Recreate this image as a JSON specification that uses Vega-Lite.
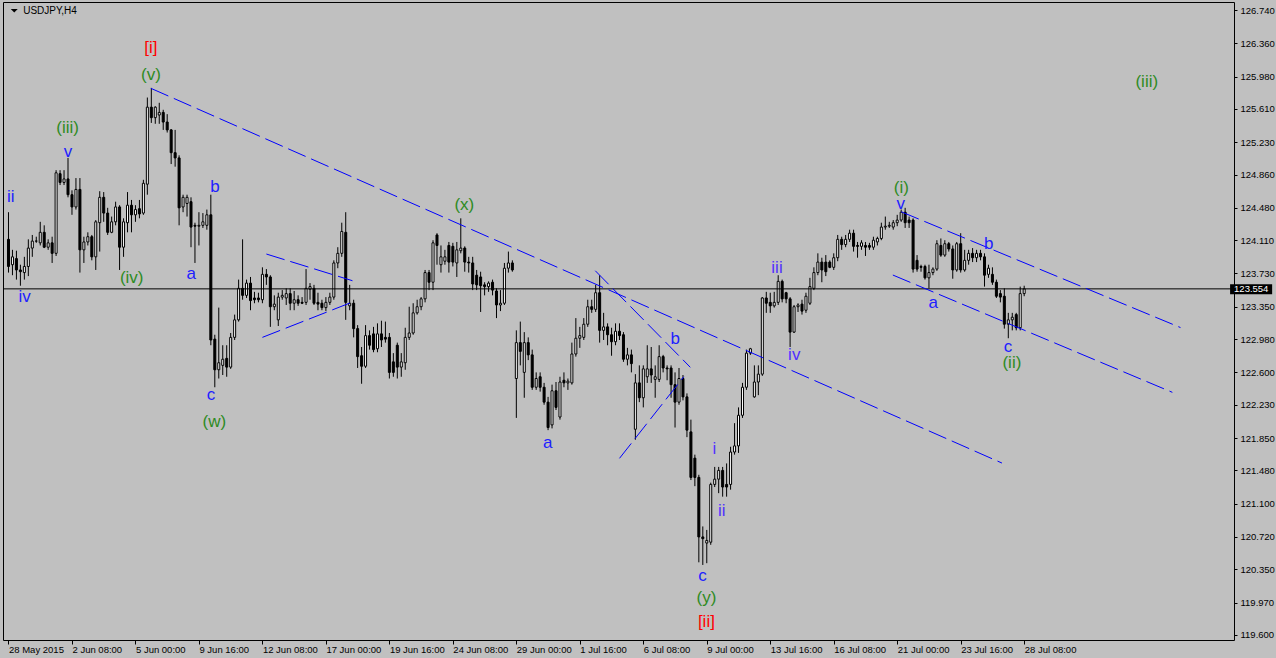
{
"$schema": "https://vega.github.io/schema/vega-lite/v6.json",
"width": 1231, "height": 638,
"autosize": "none",
"padding": {"left": 3, "top": 2, "right": 42, "bottom": 18},
"background": "#c0c0c0",
"config": {
  "view": {"stroke": "#000000", "strokeWidth": 1, "fill": "#c0c0c0"},
  "font": "Liberation Sans",
  "axis": {"labelOverlap": false, "labelFlush": false, "labelBound": false, "grid": false, "domain": false}
},
"datasets": {
"bars": [
{"i":0,"o":124.12,"h":124.43,"l":123.74,"c":123.81},
{"i":1,"o":123.83,"h":124.00,"l":123.71,"c":123.92},
{"i":2,"o":123.90,"h":123.99,"l":123.66,"c":123.77},
{"i":3,"o":123.77,"h":123.83,"l":123.59,"c":123.75},
{"i":4,"o":123.74,"h":123.92,"l":123.66,"c":123.81},
{"i":5,"o":123.81,"h":124.12,"l":123.70,"c":124.02},
{"i":6,"o":124.02,"h":124.17,"l":123.92,"c":124.10},
{"i":7,"o":124.10,"h":124.15,"l":124.08,"c":124.10},
{"i":8,"o":124.08,"h":124.32,"l":124.05,"c":124.20},
{"i":9,"o":124.20,"h":124.28,"l":124.02,"c":124.03},
{"i":10,"o":124.03,"h":124.12,"l":124.00,"c":124.08},
{"i":11,"o":124.08,"h":124.15,"l":123.85,"c":123.96},
{"i":12,"o":123.96,"h":124.91,"l":123.93,"c":124.88},
{"i":13,"o":124.87,"h":124.91,"l":124.74,"c":124.77},
{"i":14,"o":124.77,"h":124.91,"l":124.74,"c":124.81},
{"i":15,"o":124.81,"h":125.05,"l":124.60,"c":124.63},
{"i":16,"o":124.63,"h":124.68,"l":124.40,"c":124.49},
{"i":17,"o":124.49,"h":124.82,"l":124.46,"c":124.69},
{"i":18,"o":124.69,"h":124.82,"l":123.74,"c":124.00},
{"i":19,"o":124.00,"h":124.15,"l":123.85,"c":124.09},
{"i":20,"o":124.09,"h":124.20,"l":124.05,"c":124.15},
{"i":21,"o":124.15,"h":124.17,"l":123.88,"c":123.92},
{"i":22,"o":123.92,"h":124.34,"l":123.77,"c":124.32},
{"i":23,"o":124.31,"h":124.67,"l":123.98,"c":124.60},
{"i":24,"o":124.60,"h":124.66,"l":124.32,"c":124.42},
{"i":25,"o":124.42,"h":124.48,"l":124.17,"c":124.20},
{"i":26,"o":124.20,"h":124.38,"l":124.19,"c":124.32},
{"i":27,"o":124.32,"h":124.55,"l":124.28,"c":124.49},
{"i":28,"o":124.49,"h":124.51,"l":123.77,"c":124.03},
{"i":29,"o":124.03,"h":124.36,"l":123.92,"c":124.32},
{"i":30,"o":124.31,"h":124.66,"l":124.20,"c":124.51},
{"i":31,"o":124.51,"h":124.57,"l":124.20,"c":124.40},
{"i":32,"o":124.40,"h":124.51,"l":124.32,"c":124.46},
{"i":33,"o":124.47,"h":124.57,"l":124.36,"c":124.41},
{"i":34,"o":124.42,"h":124.80,"l":124.40,"c":124.76},
{"i":35,"o":124.75,"h":125.74,"l":124.63,"c":125.63},
{"i":36,"o":125.63,"h":125.85,"l":125.45,"c":125.51},
{"i":37,"o":125.51,"h":125.64,"l":125.44,"c":125.63},
{"i":38,"o":125.54,"h":125.68,"l":125.44,"c":125.57},
{"i":39,"o":125.57,"h":125.60,"l":125.37,"c":125.46},
{"i":40,"o":125.46,"h":125.55,"l":125.34,"c":125.37},
{"i":41,"o":125.37,"h":125.38,"l":124.98,"c":125.11},
{"i":42,"o":125.11,"h":125.37,"l":124.95,"c":125.05},
{"i":43,"o":125.05,"h":125.08,"l":124.28,"c":124.48},
{"i":44,"o":124.49,"h":124.63,"l":124.43,"c":124.60},
{"i":45,"o":124.53,"h":124.63,"l":124.38,"c":124.60},
{"i":46,"o":124.55,"h":124.60,"l":124.03,"c":124.26},
{"i":47,"o":124.28,"h":124.31,"l":123.85,"c":124.27},
{"i":48,"o":124.27,"h":124.43,"l":124.05,"c":124.28},
{"i":49,"o":124.28,"h":124.42,"l":124.25,"c":124.32},
{"i":50,"o":124.28,"h":124.46,"l":124.23,"c":124.40},
{"i":51,"o":124.40,"h":124.63,"l":122.91,"c":122.97},
{"i":52,"o":122.98,"h":123.03,"l":122.43,"c":122.63},
{"i":53,"o":122.63,"h":123.34,"l":122.53,"c":122.71},
{"i":54,"o":122.68,"h":122.91,"l":122.57,"c":122.75},
{"i":55,"o":122.76,"h":122.91,"l":122.55,"c":122.66},
{"i":56,"o":122.66,"h":123.05,"l":122.64,"c":123.00},
{"i":57,"o":123.00,"h":123.26,"l":122.97,"c":123.20},
{"i":58,"o":123.20,"h":123.66,"l":123.18,"c":123.56},
{"i":59,"o":123.56,"h":124.12,"l":123.43,"c":123.48},
{"i":60,"o":123.48,"h":123.66,"l":123.45,"c":123.62},
{"i":61,"o":123.62,"h":123.69,"l":123.31,"c":123.42},
{"i":62,"o":123.45,"h":123.52,"l":123.39,"c":123.43},
{"i":63,"o":123.45,"h":123.51,"l":123.40,"c":123.43},
{"i":64,"o":123.43,"h":123.80,"l":123.39,"c":123.72},
{"i":65,"o":123.72,"h":123.78,"l":123.60,"c":123.69},
{"i":66,"o":123.69,"h":123.71,"l":123.12,"c":123.35},
{"i":67,"o":123.35,"h":123.48,"l":123.31,"c":123.38},
{"i":68,"o":123.20,"h":123.51,"l":123.13,"c":123.46},
{"i":69,"o":123.46,"h":123.54,"l":123.43,"c":123.48},
{"i":70,"o":123.45,"h":123.56,"l":123.37,"c":123.50},
{"i":71,"o":123.50,"h":123.56,"l":123.31,"c":123.39},
{"i":72,"o":123.39,"h":123.53,"l":123.31,"c":123.43},
{"i":73,"o":123.43,"h":123.48,"l":123.36,"c":123.39},
{"i":74,"o":123.40,"h":123.46,"l":123.38,"c":123.39},
{"i":75,"o":123.40,"h":123.78,"l":123.37,"c":123.56},
{"i":76,"o":123.55,"h":123.62,"l":123.43,"c":123.58},
{"i":77,"o":123.56,"h":123.60,"l":123.37,"c":123.39},
{"i":78,"o":123.40,"h":123.51,"l":123.31,"c":123.38},
{"i":79,"o":123.39,"h":123.43,"l":123.31,"c":123.34},
{"i":80,"o":123.34,"h":123.46,"l":123.30,"c":123.40},
{"i":81,"o":123.40,"h":123.51,"l":123.37,"c":123.46},
{"i":82,"o":123.46,"h":123.88,"l":123.43,"c":123.85},
{"i":83,"o":123.85,"h":124.03,"l":123.79,"c":123.96},
{"i":84,"o":123.96,"h":124.31,"l":123.92,"c":124.21},
{"i":85,"o":124.20,"h":124.43,"l":123.20,"c":123.40},
{"i":86,"o":123.36,"h":123.60,"l":123.31,"c":123.39},
{"i":87,"o":123.39,"h":123.43,"l":123.00,"c":123.10},
{"i":88,"o":123.10,"h":123.14,"l":122.65,"c":122.78},
{"i":89,"o":122.79,"h":122.89,"l":122.47,"c":122.67},
{"i":90,"o":122.67,"h":123.14,"l":122.65,"c":123.02},
{"i":91,"o":123.02,"h":123.08,"l":122.86,"c":122.91},
{"i":92,"o":123.04,"h":123.12,"l":122.83,"c":122.86},
{"i":93,"o":122.87,"h":123.16,"l":122.83,"c":123.04},
{"i":94,"o":123.04,"h":123.19,"l":122.89,"c":122.97},
{"i":95,"o":123.00,"h":123.18,"l":122.94,"c":122.98},
{"i":96,"o":123.00,"h":123.05,"l":122.53,"c":122.60},
{"i":97,"o":122.72,"h":122.82,"l":122.55,"c":122.60},
{"i":98,"o":122.91,"h":122.94,"l":122.53,"c":122.66},
{"i":99,"o":122.66,"h":122.82,"l":122.55,"c":122.72},
{"i":100,"o":122.71,"h":123.11,"l":122.63,"c":123.00},
{"i":101,"o":123.00,"h":123.35,"l":122.97,"c":123.05},
{"i":102,"o":123.05,"h":123.39,"l":123.03,"c":123.28},
{"i":103,"o":123.28,"h":123.43,"l":123.26,"c":123.35},
{"i":104,"o":123.35,"h":123.46,"l":123.31,"c":123.44},
{"i":105,"o":123.44,"h":123.77,"l":123.40,"c":123.74},
{"i":106,"o":123.74,"h":123.77,"l":123.54,"c":123.63},
{"i":107,"o":123.63,"h":124.11,"l":123.54,"c":124.08},
{"i":108,"o":124.17,"h":124.19,"l":123.83,"c":124.05},
{"i":109,"o":123.83,"h":124.05,"l":123.74,"c":123.92},
{"i":110,"o":123.87,"h":124.00,"l":123.83,"c":123.92},
{"i":111,"o":124.05,"h":124.09,"l":123.74,"c":123.86},
{"i":112,"o":124.04,"h":124.08,"l":123.81,"c":123.86},
{"i":113,"o":123.85,"h":124.09,"l":123.69,"c":124.00},
{"i":114,"o":123.99,"h":124.36,"l":123.96,"c":124.02},
{"i":115,"o":124.02,"h":124.04,"l":123.75,"c":123.86},
{"i":116,"o":123.86,"h":123.92,"l":123.74,"c":123.85},
{"i":117,"o":123.85,"h":123.92,"l":123.54,"c":123.61},
{"i":118,"o":123.71,"h":123.77,"l":123.54,"c":123.60},
{"i":119,"o":123.69,"h":123.75,"l":123.29,"c":123.59},
{"i":120,"o":123.60,"h":123.63,"l":123.48,"c":123.58},
{"i":121,"o":123.58,"h":123.64,"l":123.52,"c":123.62},
{"i":122,"o":123.63,"h":123.66,"l":123.48,"c":123.54},
{"i":123,"o":123.53,"h":123.56,"l":123.22,"c":123.37},
{"i":124,"o":123.37,"h":123.54,"l":123.30,"c":123.39},
{"i":125,"o":123.39,"h":123.85,"l":123.37,"c":123.79},
{"i":126,"o":123.79,"h":123.98,"l":123.74,"c":123.85},
{"i":127,"o":123.85,"h":123.88,"l":123.75,"c":123.77},
{"i":128,"o":122.53,"h":123.08,"l":122.08,"c":122.94},
{"i":129,"o":122.94,"h":123.18,"l":122.68,"c":122.84},
{"i":130,"o":122.60,"h":123.06,"l":122.31,"c":122.94},
{"i":131,"o":122.94,"h":123.00,"l":122.74,"c":122.80},
{"i":132,"o":122.80,"h":122.86,"l":122.40,"c":122.43},
{"i":133,"o":122.43,"h":122.60,"l":122.40,"c":122.53},
{"i":134,"o":122.55,"h":122.60,"l":122.38,"c":122.43},
{"i":135,"o":122.43,"h":122.48,"l":122.23,"c":122.26},
{"i":136,"o":122.26,"h":122.32,"l":121.94,"c":121.97},
{"i":137,"o":122.00,"h":122.46,"l":121.96,"c":122.39},
{"i":138,"o":122.39,"h":122.49,"l":122.17,"c":122.20},
{"i":139,"o":122.09,"h":122.55,"l":122.06,"c":122.49},
{"i":140,"o":122.51,"h":122.60,"l":122.43,"c":122.48},
{"i":141,"o":122.48,"h":122.53,"l":122.40,"c":122.50},
{"i":142,"o":122.48,"h":122.94,"l":122.46,"c":122.81},
{"i":143,"o":122.81,"h":123.22,"l":122.78,"c":122.99},
{"i":144,"o":122.99,"h":123.12,"l":122.88,"c":123.02},
{"i":145,"o":123.00,"h":123.22,"l":122.97,"c":123.15},
{"i":146,"o":123.15,"h":123.43,"l":123.12,"c":123.35},
{"i":147,"o":123.35,"h":123.43,"l":123.28,"c":123.32},
{"i":148,"o":123.32,"h":123.60,"l":123.29,"c":123.51},
{"i":149,"o":123.51,"h":123.71,"l":122.94,"c":123.08},
{"i":150,"o":123.08,"h":123.28,"l":122.97,"c":123.12},
{"i":151,"o":123.12,"h":123.16,"l":122.91,"c":123.03},
{"i":152,"o":123.03,"h":123.11,"l":122.79,"c":122.95},
{"i":153,"o":122.95,"h":123.16,"l":122.91,"c":123.07},
{"i":154,"o":123.07,"h":123.16,"l":122.97,"c":123.02},
{"i":155,"o":123.03,"h":123.06,"l":122.72,"c":122.75},
{"i":156,"o":122.75,"h":122.88,"l":122.68,"c":122.80},
{"i":157,"o":122.80,"h":122.86,"l":122.60,"c":122.70},
{"i":158,"o":121.95,"h":122.58,"l":121.83,"c":122.48},
{"i":159,"o":122.48,"h":122.68,"l":122.26,"c":122.31},
{"i":160,"o":122.31,"h":122.68,"l":122.20,"c":122.64},
{"i":161,"o":122.55,"h":122.91,"l":122.48,"c":122.64},
{"i":162,"o":122.64,"h":122.89,"l":122.48,"c":122.57},
{"i":163,"o":122.52,"h":122.68,"l":122.31,"c":122.55},
{"i":164,"o":122.52,"h":122.91,"l":122.49,"c":122.78},
{"i":165,"o":122.78,"h":122.80,"l":122.60,"c":122.65},
{"i":166,"o":122.65,"h":122.68,"l":122.51,"c":122.64},
{"i":167,"o":122.65,"h":122.68,"l":122.31,"c":122.46},
{"i":168,"o":122.46,"h":122.60,"l":121.97,"c":122.26},
{"i":169,"o":122.26,"h":122.65,"l":122.23,"c":122.53},
{"i":170,"o":122.53,"h":122.57,"l":122.28,"c":122.32},
{"i":171,"o":122.32,"h":122.36,"l":121.86,"c":121.94},
{"i":172,"o":121.92,"h":122.06,"l":121.37,"c":121.40},
{"i":173,"o":121.62,"h":121.66,"l":121.30,"c":121.40},
{"i":174,"o":121.40,"h":121.43,"l":120.43,"c":120.72},
{"i":175,"o":120.72,"h":120.84,"l":120.40,"c":120.70},
{"i":176,"o":120.65,"h":120.80,"l":120.42,"c":120.68},
{"i":177,"o":120.66,"h":121.34,"l":120.63,"c":121.32},
{"i":178,"o":121.32,"h":121.52,"l":121.29,"c":121.38},
{"i":179,"o":121.38,"h":121.52,"l":121.22,"c":121.48},
{"i":180,"o":121.48,"h":121.52,"l":121.18,"c":121.29},
{"i":181,"o":121.32,"h":121.56,"l":121.18,"c":121.29},
{"i":182,"o":121.32,"h":121.75,"l":121.26,"c":121.69},
{"i":183,"o":121.69,"h":122.02,"l":121.66,"c":121.76},
{"i":184,"o":121.76,"h":122.20,"l":121.68,"c":122.11},
{"i":185,"o":122.11,"h":122.48,"l":122.08,"c":122.43},
{"i":186,"o":122.43,"h":122.86,"l":122.40,"c":122.82},
{"i":187,"o":122.82,"h":122.88,"l":122.80,"c":122.87},
{"i":188,"o":122.32,"h":122.68,"l":122.31,"c":122.49},
{"i":189,"o":122.49,"h":122.68,"l":122.34,"c":122.58},
{"i":190,"o":122.58,"h":123.46,"l":122.56,"c":123.45},
{"i":191,"o":123.45,"h":123.52,"l":123.28,"c":123.39},
{"i":192,"o":123.40,"h":123.51,"l":123.28,"c":123.36},
{"i":193,"o":123.36,"h":123.52,"l":123.34,"c":123.40},
{"i":194,"o":123.40,"h":123.71,"l":123.37,"c":123.64},
{"i":195,"o":123.64,"h":123.66,"l":123.40,"c":123.44},
{"i":196,"o":123.51,"h":123.52,"l":123.39,"c":123.44},
{"i":197,"o":123.44,"h":123.46,"l":122.89,"c":123.06},
{"i":198,"o":123.06,"h":123.37,"l":123.05,"c":123.35},
{"i":199,"o":123.35,"h":123.39,"l":123.29,"c":123.37},
{"i":200,"o":123.38,"h":123.43,"l":123.26,"c":123.30},
{"i":201,"o":123.31,"h":123.51,"l":123.28,"c":123.47},
{"i":202,"o":123.39,"h":123.68,"l":123.37,"c":123.58},
{"i":203,"o":123.56,"h":123.80,"l":123.54,"c":123.74},
{"i":204,"o":123.74,"h":123.96,"l":123.71,"c":123.86},
{"i":205,"o":123.86,"h":123.91,"l":123.63,"c":123.77},
{"i":206,"o":123.86,"h":123.94,"l":123.70,"c":123.75},
{"i":207,"o":123.86,"h":123.88,"l":123.79,"c":123.80},
{"i":208,"o":123.80,"h":123.96,"l":123.77,"c":123.91},
{"i":209,"o":123.91,"h":124.17,"l":123.87,"c":124.12},
{"i":210,"o":124.12,"h":124.15,"l":124.00,"c":124.06},
{"i":211,"o":124.06,"h":124.17,"l":124.03,"c":124.12},
{"i":212,"o":124.12,"h":124.23,"l":124.09,"c":124.19},
{"i":213,"o":124.19,"h":124.23,"l":123.98,"c":124.04},
{"i":214,"o":124.05,"h":124.09,"l":123.91,"c":124.04},
{"i":215,"o":124.04,"h":124.11,"l":124.00,"c":124.08},
{"i":216,"o":124.05,"h":124.09,"l":123.93,"c":124.03},
{"i":217,"o":124.05,"h":124.08,"l":124.00,"c":124.03},
{"i":218,"o":124.03,"h":124.15,"l":124.00,"c":124.11},
{"i":219,"o":124.09,"h":124.15,"l":124.05,"c":124.13},
{"i":220,"o":124.13,"h":124.31,"l":124.11,"c":124.26},
{"i":221,"o":124.26,"h":124.38,"l":124.23,"c":124.27},
{"i":222,"o":124.27,"h":124.32,"l":124.25,"c":124.28},
{"i":223,"o":124.26,"h":124.34,"l":124.23,"c":124.31},
{"i":224,"o":124.31,"h":124.40,"l":124.27,"c":124.34},
{"i":225,"o":124.34,"h":124.46,"l":124.32,"c":124.43},
{"i":226,"o":124.43,"h":124.48,"l":124.25,"c":124.31},
{"i":227,"o":124.34,"h":124.38,"l":124.25,"c":124.31},
{"i":228,"o":124.34,"h":124.36,"l":123.74,"c":123.78},
{"i":229,"o":123.88,"h":123.94,"l":123.75,"c":123.78},
{"i":230,"o":123.81,"h":123.83,"l":123.75,"c":123.80},
{"i":231,"o":123.81,"h":123.83,"l":123.66,"c":123.68},
{"i":232,"o":123.68,"h":123.83,"l":123.56,"c":123.74},
{"i":233,"o":123.74,"h":123.80,"l":123.71,"c":123.78},
{"i":234,"o":123.78,"h":124.11,"l":123.76,"c":124.07},
{"i":235,"o":124.05,"h":124.13,"l":123.92,"c":123.94},
{"i":236,"o":123.94,"h":124.11,"l":123.92,"c":124.07},
{"i":237,"o":124.07,"h":124.09,"l":123.98,"c":124.01},
{"i":238,"o":124.01,"h":124.05,"l":123.67,"c":123.77},
{"i":239,"o":123.77,"h":124.09,"l":123.75,"c":124.07},
{"i":240,"o":124.07,"h":124.19,"l":123.74,"c":123.77},
{"i":241,"o":123.77,"h":124.00,"l":123.75,"c":123.88},
{"i":242,"o":123.88,"h":124.00,"l":123.83,"c":123.96},
{"i":243,"o":123.96,"h":124.02,"l":123.86,"c":123.91},
{"i":244,"o":123.91,"h":124.00,"l":123.86,"c":123.96},
{"i":245,"o":123.96,"h":124.00,"l":123.88,"c":123.92},
{"i":246,"o":123.92,"h":123.96,"l":123.58,"c":123.71},
{"i":247,"o":123.72,"h":123.83,"l":123.68,"c":123.79},
{"i":248,"o":123.72,"h":123.80,"l":123.60,"c":123.63},
{"i":249,"o":123.63,"h":123.66,"l":123.45,"c":123.47},
{"i":250,"o":123.50,"h":123.54,"l":123.40,"c":123.46},
{"i":251,"o":123.47,"h":123.56,"l":123.10,"c":123.15},
{"i":252,"o":123.15,"h":123.28,"l":122.99,"c":123.20},
{"i":253,"o":123.20,"h":123.28,"l":123.08,"c":123.23},
{"i":254,"o":123.26,"h":123.28,"l":123.08,"c":123.11},
{"i":255,"o":123.11,"h":123.58,"l":123.08,"c":123.50},
{"i":256,"o":123.50,"h":123.59,"l":123.47,"c":123.554}
],
"waves": [
{"k":35.9,"p":126.306,"t":"[i]","d":"Primary"},
{"k":35.9,"p":125.997,"t":"(v)","d":"Intermediate"},
{"k":14.9,"p":125.392,"t":"(iii)","d":"Intermediate"},
{"k":15.0,"p":125.117,"t":"v","d":"Minor"},
{"k":0.55,"p":124.607,"t":"ii","d":"Minor"},
{"k":4.05,"p":123.461,"t":"iv","d":"Minor"},
{"k":31.05,"p":123.678,"t":"(iv)","d":"Intermediate"},
{"k":46.05,"p":123.724,"t":"a","d":"Minor"},
{"k":52.05,"p":124.718,"t":"b","d":"Minor"},
{"k":51.05,"p":122.341,"t":"c","d":"Minor"},
{"k":51.9,"p":122.033,"t":"(w)","d":"Intermediate"},
{"k":114.9,"p":124.512,"t":"(x)","d":"Intermediate"},
{"k":135.9,"p":121.793,"t":"a","d":"Minor"},
{"k":168.05,"p":122.981,"t":"b","d":"Minor"},
{"k":174.9,"p":120.273,"t":"c","d":"Minor"},
{"k":175.9,"p":120.022,"t":"(y)","d":"Intermediate"},
{"k":175.9,"p":119.748,"t":"[ii]","d":"Primary"},
{"k":177.9,"p":121.724,"t":"i","d":"Minute"},
{"k":179.8,"p":121.016,"t":"ii","d":"Minute"},
{"k":193.7,"p":123.792,"t":"iii","d":"Minute"},
{"k":198.05,"p":122.798,"t":"iv","d":"Minute"},
{"k":225.05,"p":124.710,"t":"(i)","d":"Intermediate"},
{"k":224.9,"p":124.524,"t":"v","d":"Minor"},
{"k":233.05,"p":123.392,"t":"a","d":"Minor"},
{"k":247.05,"p":124.066,"t":"b","d":"Minor"},
{"k":251.9,"p":122.890,"t":"c","d":"Minor"},
{"k":252.9,"p":122.707,"t":"(ii)","d":"Intermediate"},
{"k":286.9,"p":125.917,"t":"(iii)","d":"Intermediate"}
],
"lines": [
{"g":"L1","k":35.9,"p":125.845},{"g":"L1","k":250.4,"p":121.564},
{"g":"L2","k":225.0,"p":124.435},{"g":"L2","k":295.4,"p":123.112},
{"g":"L3","k":222.9,"p":123.712},{"g":"L3","k":293.35,"p":122.372},
{"g":"L4","k":65.0,"p":123.952},{"g":"L4","k":86.7,"p":123.647},
{"g":"L5","k":64.0,"p":123.000},{"g":"L5","k":86.25,"p":123.396},
{"g":"L6","k":147.9,"p":123.761},{"g":"L6","k":171.85,"p":122.658},
{"g":"L7","k":154.0,"p":121.618},{"g":"L7","k":170.2,"p":122.550}
],
"one": [{"price": 123.554}]
},
"layer": [
{
  "data": {"name": "bars"},
  "mark": {"type": "rule", "color": "#000000", "strokeWidth": 1},
  "encoding": {
    "x": {"field": "i", "type": "quantitative", "scale": {"domain": [-0.125, 307.625], "nice": false, "zero": false},
      "axis": {"orient": "bottom", "title": null, "grid": false, "domain": false, "tickColor": "#000000", "labelColor": "#000000", "labelFont": "Liberation Sans", "labelOverlap": false, "labelFlush": false, "labelBound": false, "tickCount": 40,
        "values": [0,16,32,48,64,80,96,112,128,144,160,176,192,208,224,240,256],
        "labelExpr": "['28 May 2015','2 Jun 08:00','5 Jun 00:00','9 Jun 16:00','12 Jun 08:00','17 Jun 00:00','19 Jun 16:00','24 Jun 08:00','29 Jun 00:00','1 Jul 16:00','6 Jul 08:00','9 Jul 00:00','13 Jul 16:00','16 Jul 08:00','21 Jul 00:00','23 Jul 16:00','28 Jul 08:00'][round(datum.value/16)]",
        "tickSize": 4, "labelAlign": "left", "labelBaseline": "middle", "labelPadding": 5, "labelOffset": 0, "labelFontSize": 9.5}},
    "y": {"field": "l", "type": "quantitative", "scale": {"domain": [119.5425, 126.8314], "nice": false, "zero": false},
      "axis": {"orient": "right", "title": null, "grid": false, "domain": false, "tickColor": "#000000", "labelColor": "#000000", "labelFont": "Liberation Sans", "labelOverlap": false, "labelFlush": false, "labelBound": false, "tickCount": 40,
        "values": [126.74,126.36,125.98,125.61,125.23,124.86,124.48,124.11,123.73,123.35,122.98,122.60,122.23,121.85,121.48,121.10,120.72,120.35,119.97,119.60],
        "format": ".3f", "tickSize": 3, "labelPadding": 3, "labelFontSize": 9.5, "labelBaseline": "middle"}},
    "y2": {"field": "h"}
  }
},
{
  "data": {"name": "bars"},
  "mark": {"type": "bar", "size": 2, "stroke": "#000000", "strokeWidth": 1},
  "encoding": {
    "x": {"field": "i", "type": "quantitative", "scale": {"domain": [-0.125, 307.625], "nice": false, "zero": false}},
    "y": {"field": "o", "type": "quantitative", "scale": {"domain": [119.5425, 126.8314], "nice": false, "zero": false}},
    "y2": {"field": "c"},
    "fill": {"condition": {"test": "datum.c > datum.o", "value": "#ffffff"}, "value": "#000000"}
  }
},
{
  "data": {"name": "one"},
  "mark": {"type": "rule", "color": "#000000", "strokeWidth": 1},
  "encoding": {
    "y": {"field": "price", "type": "quantitative", "scale": {"domain": [119.5425, 126.8314], "nice": false, "zero": false}}
  }
},
{
  "data": {"name": "lines"},
  "mark": {"type": "line", "color": "#0000ff", "strokeWidth": 1, "strokeDash": [19, 6]},
  "encoding": {
    "x": {"field": "k", "type": "quantitative", "scale": {"domain": [-0.125, 307.625], "nice": false, "zero": false}},
    "y": {"field": "p", "type": "quantitative", "scale": {"domain": [119.5425, 126.8314], "nice": false, "zero": false}},
    "detail": {"field": "g"}
  }
},
{
  "data": {"name": "waves"},
  "mark": {"type": "text", "fontSize": 17, "align": "center", "baseline": "middle", "font": "Liberation Sans"},
  "encoding": {
    "x": {"field": "k", "type": "quantitative", "scale": {"domain": [-0.125, 307.625], "nice": false, "zero": false}},
    "y": {"field": "p", "type": "quantitative", "scale": {"domain": [119.5425, 126.8314], "nice": false, "zero": false}},
    "text": {"field": "t"},
    "color": {"field": "d", "type": "nominal", "scale": {"domain": ["Primary","Intermediate","Minor","Minute"], "range": ["#ff0000","#2e8b1f","#2020ff","#5030ff"]}, "legend": null}
  }
},
{
  "data": {"name": "one"},
  "mark": {"type": "rect", "color": "#000000"},
  "encoding": {
    "x": {"datum": 307.9, "type": "quantitative", "scale": {"domain": [-0.125, 307.625], "nice": false, "zero": false}},
    "x2": {"datum": 318.5},
    "y": {"datum": 123.606, "type": "quantitative", "scale": {"domain": [119.5425, 126.8314], "nice": false, "zero": false}},
    "y2": {"datum": 123.492}
  }
},
{
  "data": {"name": "one"},
  "mark": {"type": "text", "color": "#ffffff", "align": "left", "baseline": "middle", "fontSize": 9.5, "font": "Liberation Sans"},
  "encoding": {
    "x": {"datum": 308.9, "type": "quantitative", "scale": {"domain": [-0.125, 307.625], "nice": false, "zero": false}},
    "y": {"field": "price", "type": "quantitative", "scale": {"domain": [119.5425, 126.8314], "nice": false, "zero": false}},
    "text": {"field": "price", "type": "quantitative", "format": ".3f"}
  }
},
{
  "data": {"name": "one"},
  "mark": {"type": "text", "color": "#000000", "align": "left", "baseline": "middle", "fontSize": 10, "font": "Liberation Sans"},
  "encoding": {
    "x": {"datum": 3.7, "type": "quantitative", "scale": {"domain": [-0.125, 307.625], "nice": false, "zero": false}},
    "y": {"datum": 126.734, "type": "quantitative", "scale": {"domain": [119.5425, 126.8314], "nice": false, "zero": false}},
    "text": {"value": "USDJPY,H4"}
  }
},
{
  "data": {"name": "one"},
  "mark": {"type": "point", "shape": "M-1,-0.5L1,-0.5L0,0.5Z", "filled": true, "color": "#000000", "size": 49, "opacity": 1},
  "encoding": {
    "x": {"datum": 1.45, "type": "quantitative", "scale": {"domain": [-0.125, 307.625], "nice": false, "zero": false}},
    "y": {"datum": 126.731, "type": "quantitative", "scale": {"domain": [119.5425, 126.8314], "nice": false, "zero": false}}
  }
}
]
}
